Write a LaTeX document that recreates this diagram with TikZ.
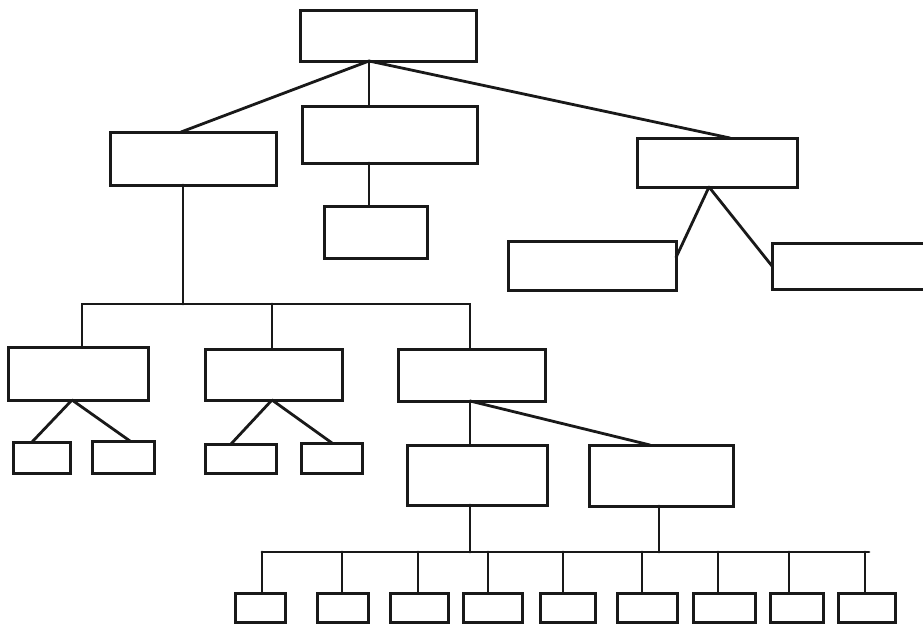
\documentclass[tikz,border=0pt]{standalone}
\usetikzlibrary{calc}
\begin{document}
\begin{tikzpicture}[x=1pt,y=-1pt,
  box/.style={draw=black!90, line width=3pt, inner sep=0pt, outer sep=0pt, rectangle},
  conn/.style={draw=black!90, line width=2.8pt, line cap=round}]
\useasboundingbox[fill=white] (0,0) rectangle (923,629);
% level 0
\node[box, minimum width=176, minimum height=51] (root) at (388,35.5) {};
% level 1
\node[box, minimum width=166, minimum height=53] (la) at (193,158.5) {};
\node[box, minimum width=175, minimum height=57] (lb) at (389.5,134.5) {};
\node[box, minimum width=103, minimum height=52] (lbb) at (375.5,232) {};
\node[box, minimum width=160, minimum height=49] (lc) at (717,162.5) {};
\node[box, minimum width=168, minimum height=49] (rc1) at (592,265.5) {};
\node[box, minimum width=163, minimum height=46] (rc2) at (853.5,266) {};
% level 2
\node[box, minimum width=140, minimum height=53] (A) at (78,373.5) {};
\node[box, minimum width=137, minimum height=51] (B) at (273.5,374.5) {};
\node[box, minimum width=147, minimum height=52] (C) at (471.5,375) {};
\node[box, minimum width=57, minimum height=31] (a1) at (41.5,457.5) {};
\node[box, minimum width=62, minimum height=32] (a2) at (123,457) {};
\node[box, minimum width=71, minimum height=29] (b1) at (240.5,458.5) {};
\node[box, minimum width=61, minimum height=30] (b2) at (331.5,458) {};
\node[box, minimum width=140, minimum height=60] (C1) at (477,475) {};
\node[box, minimum width=144, minimum height=61] (C2) at (661,475.5) {};
% bottom row
\foreach \n/\cx/\w in {1/260/50, 2/342.5/51, 3/419/58, 4/492.5/59, 5/567.5/55, 6/647/60, 7/724/62, 8/796.5/53, 9/866.5/57}
  \node[box, minimum width=\w, minimum height=29] (d\n) at (\cx,607.5) {};
% junction coordinates
\coordinate (bus1) at (0,304);
\coordinate (bus2) at (0,552);
\coordinate (r0) at ($(root.south)+(-19,0)$);
\coordinate (lat) at ($(la.south)+(-10,0)$);
\coordinate (At) at ($(A.north)+(4,0)$);
\coordinate (Bt) at ($(B.north)+(-1.5,0)$);
\coordinate (ca) at ($(C.south)+(-1.5,0)$);
\coordinate (c2b) at ($(C2.south)+(-2,0)$);
% connectors from root
\draw[conn] (r0) -- ($(la.north)+(-12,0)$);
\draw[conn] (r0) -- (r0 |- lb.north);
\draw[conn] (r0) -- ($(lc.north)+(13,0)$);
\draw[conn] ($(lb.south)+(-20.5,0)$) -- ($(lbb.north)+(-6.5,0)$);
\draw[conn] ($(lc.south)+(-8,0)$) -- ($(rc1.east)+(0,-8)$);
\draw[conn] ($(lc.south)+(-8,0)$) -- (rc2.west);
% left trunk and bus
\draw[conn] (lat) -- (lat |- bus1);
\draw[conn] (At) -- (At |- bus1) -- (ca |- bus1) -- (ca |- C.north);
\draw[conn] (Bt |- bus1) -- (Bt);
% A, B fans
\draw[conn] ($(A.south)+(-6,0)$) -- ($(a1.north)+(-9.5,0)$);
\draw[conn] ($(A.south)+(-6,0)$) -- ($(a2.north)+(7,0)$);
\draw[conn] ($(B.south)+(-1.5,0)$) -- ($(b1.north)+(-9.5,0)$);
\draw[conn] ($(B.south)+(-1.5,0)$) -- ($(b2.north)+(0.5,0)$);
% C fan
\draw[conn] (ca) -- (ca |- C1.north);
\draw[conn] (ca) -- ($(C2.north)+(-11,0)$);
% lower bus
\draw[conn] (ca |- C1.south) -- (ca |- bus2);
\draw[conn] (c2b) -- (c2b |- bus2);
\foreach \n/\dx in {1/2, 2/-0.5, 3/-1, 4/-4.5, 5/-4.5, 6/-5, 7/-6, 8/-7.5, 9/-1.5}{
  \coordinate (t\n) at ($(d\n.north)+(\dx,0)$);
  \draw[conn] (t\n |- bus2) -- (t\n);
}
\draw[conn] (t1 |- bus2) -- ($(t9 |- bus2)+(4,0)$);
\end{tikzpicture}
\end{document}
